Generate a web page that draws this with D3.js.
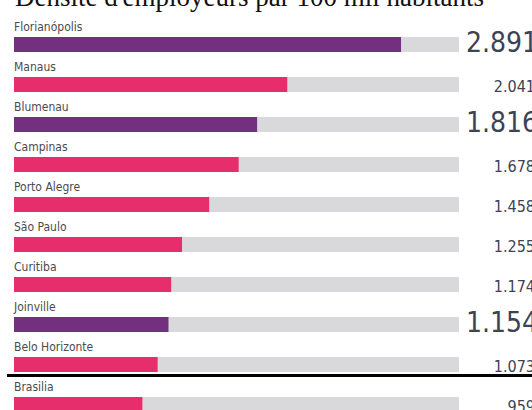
<!DOCTYPE html>
<html>
<head>
<meta charset="utf-8">
<script src="https://cdn.jsdelivr.net/npm/d3@7"></script>
<style>
  body { margin: 0; background: #fff; overflow: hidden; }
  svg { display: block; }
</style>
</head>
<body>
<div id="chart"></div>
<script>
// data
let cities = ["Florianópolis", "Manaus", "Blumenau", "Campinas", "Porto Alegre",
              "São Paulo", "Curitiba", "Joinville", "Belo Horizonte", "Brasilia"];
let values = [2891, 2041, 1816, 1678, 1458, 1255, 1174, 1154, 1073, 959];
// highlighted (purple) cities get the big number
let highlighted = ["Florianópolis", "Blumenau", "Joinville"];
let title = "Densité d'employeurs par 100 mil habitants";
let trackMax = 3324;

let rows = cities.map((c, i) => ({city: c, value: values[i], hl: highlighted.includes(c)}));

let width = 532, height = 410;
let narrow = "'Liberation Sans Narrow', 'Arial Narrow', 'DejaVu Sans Condensed', sans-serif";

let svg = d3.select("#chart").append("svg")
    .attr("width", width)
    .attr("height", height);

let x = d3.scaleLinear().domain([0, trackMax]).range([14, 459]);
let y = d3.scaleBand().domain(cities).range([17, 417]);

let fmt = d3.formatLocale({decimal: ",", thousands: ".", grouping: [3], currency: ["R$", ""]}).format(",d");

svg.append("text")
    .attr("x", 15)
    .attr("y", 6)
    .style("font-family", "'Liberation Serif', 'Times New Roman', serif")
    .style("font-size", "27px")
    .attr("fill", "#111")
    .text(title);

let g = svg.selectAll("g.row")
    .data(rows)
    .join("g")
    .attr("class", "row")
    .attr("transform", d => "translate(0," + y(d.city) + ")");

// gray track
g.append("rect")
    .attr("x", x(0))
    .attr("y", 20)
    .attr("width", x(trackMax) - x(0))
    .attr("height", 15)
    .attr("fill", "#d9d9db");

g.append("rect")
    .attr("x", x(0))
    .attr("y", 20)
    .attr("width", d => x(d.value) - x(0))
    .attr("height", 15)
    .attr("fill", d => d.hl ? "#72307f" : "#e62e6d");

g.append("text")
    .attr("x", 14)
    .attr("y", 14)
    .style("font-family", narrow)
    .style("font-size", "12px")
    .attr("fill", "#4a4a50")
    .text(d => d.city);

g.append("text")
    .attr("x", d => d.hl ? 538 : 535)
    .attr("y", 35)
    .attr("text-anchor", "end")
    .style("font-family", narrow)
    .style("font-size", d => d.hl ? "28px" : "16px")
    .attr("fill", "#3b4354")
    .text(d => fmt(d.value));

// black rule under Belo Horizonte
svg.append("line")
    .attr("x1", 7)
    .attr("x2", width)
    .attr("y1", y("Brasilia") - 1.5)
    .attr("y2", y("Brasilia") - 1.5)
    .attr("stroke", "#000")
    .attr("stroke-width", 3);
</script>
</body>
</html>
